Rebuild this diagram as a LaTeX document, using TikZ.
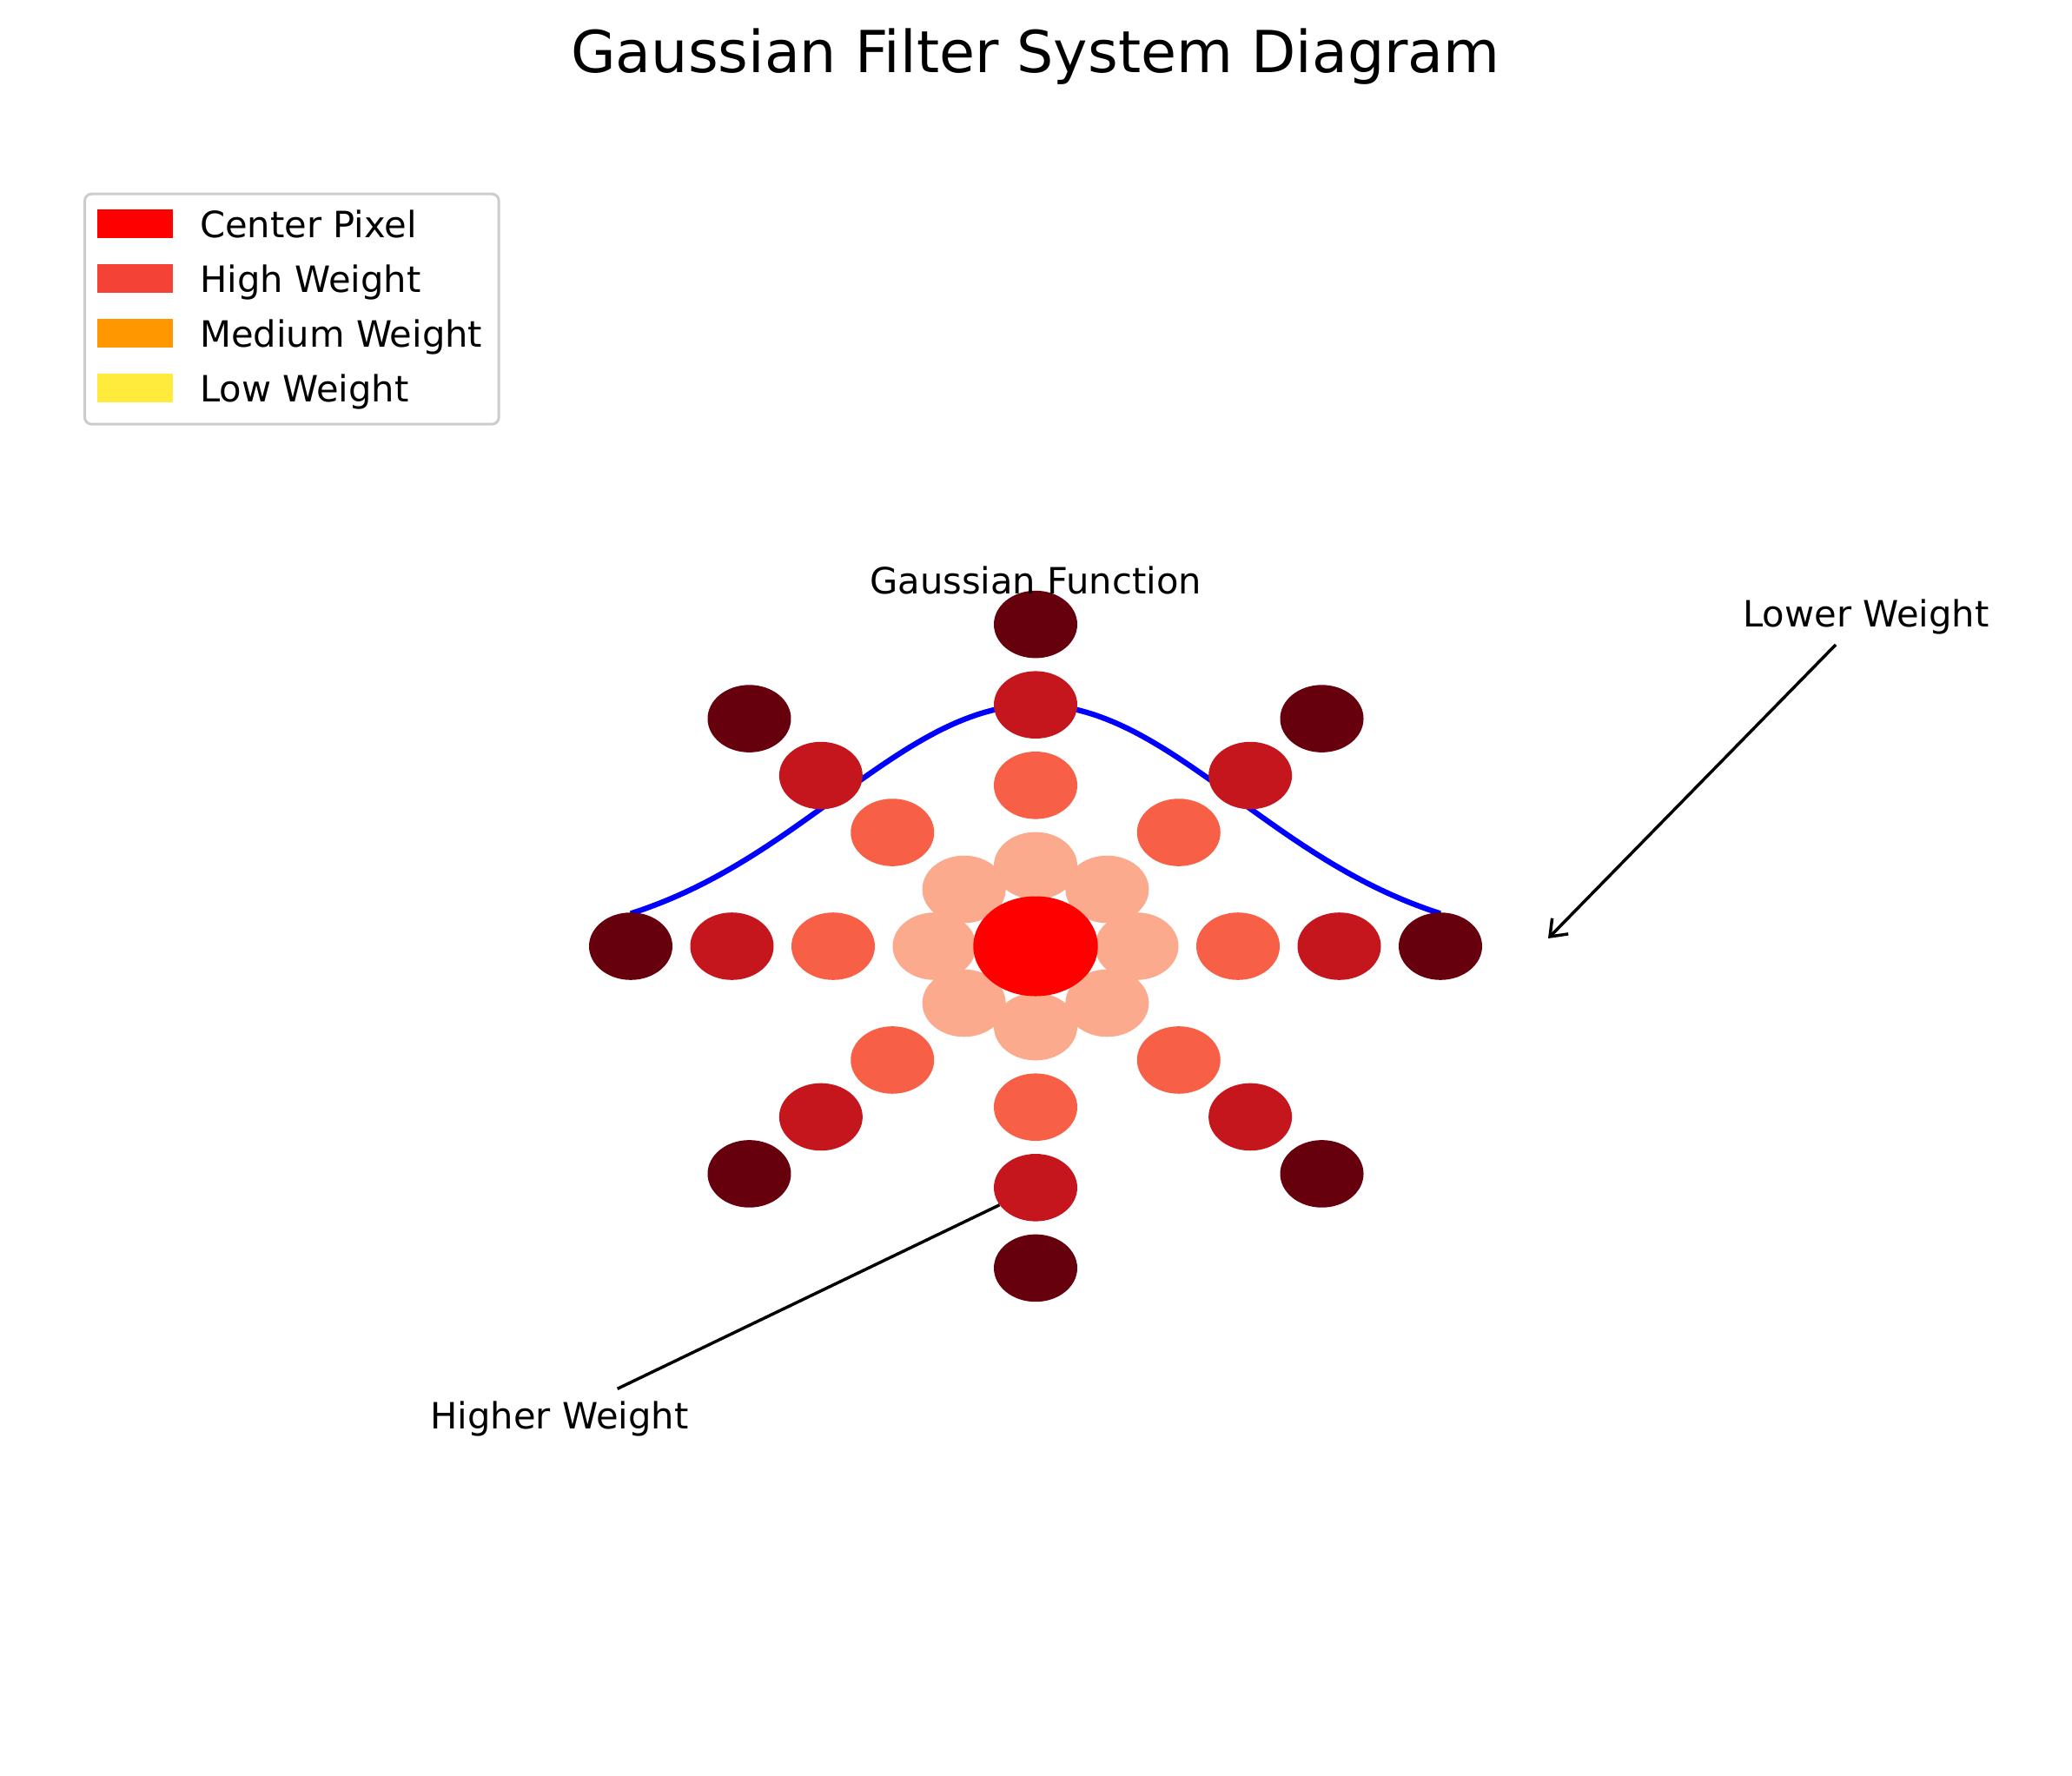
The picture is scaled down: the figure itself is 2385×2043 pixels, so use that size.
\documentclass[tikz,border=0pt]{standalone}
\usepackage{fontspec}
\setmainfont{DejaVu Sans}
\usetikzlibrary{shapes.geometric,arrows.meta}
\definecolor{ringA}{HTML}{FCAA8E}
\definecolor{ringB}{HTML}{F75F46}
\definecolor{ringC}{HTML}{C4161C}
\definecolor{ringD}{HTML}{67000D}
\definecolor{legCenter}{HTML}{FF0000}
\definecolor{legHigh}{HTML}{F44336}
\definecolor{legMed}{HTML}{FF9800}
\definecolor{legLow}{HTML}{FFEB3B}
\definecolor{legEdge}{HTML}{CCCCCC}
\definecolor{curveblue}{HTML}{0000FF}
\begin{document}
\begin{tikzpicture}[x=1pt,y=-1pt,
  pix/.style={ellipse, inner sep=0pt, minimum width=96pt, minimum height=77.6pt, draw=none},
  lbl/.style={inner sep=0pt, anchor=base, font=\fontsize{41.67}{50}\selectfont},
  legpatch/.style={rectangle, inner sep=0pt, minimum width=87pt, minimum height=32.7pt, anchor=north west, draw=none},
  legtext/.style={inner sep=0pt, anchor=base west, font=\fontsize{41.67}{50}\selectfont},
  conn/.style={line width=3.5pt, black},
  gauss/.style={line width=6.25pt, curveblue}
]
\useasboundingbox (0,0) rectangle (2385,2043);
\fill[white] (0,0) rectangle (2385,2043);

% title
\node[inner sep=0pt, anchor=base, font=\fontsize{66.67}{80}\selectfont] (title) at (1192,83) {Gaussian Filter System Diagram};

% legend
\node[draw=legEdge, line width=3pt, rounded corners=8pt, fill=white, inner sep=0pt,
      minimum width=476.7pt, minimum height=265pt, anchor=north west] (legend) at (96,221.7) {};
\node[legpatch, fill=legCenter] (lp1) at (112,241) {};
\node[legpatch, fill=legHigh]   (lp2) at (112,304) {};
\node[legpatch, fill=legMed]    (lp3) at (112,367) {};
\node[legpatch, fill=legLow]    (lp4) at (112,430) {};
\node[legtext] (lt1) at (230,273.3) {Center Pixel};
\node[legtext] (lt2) at (230,336.3) {High Weight};
\node[legtext] (lt3) at (230,399.3) {Medium Weight};
\node[legtext] (lt4) at (230,462.3) {Low Weight};

% gaussian curve
\draw[gauss] plot[domain=-4:4, samples=120, variable=\t] ({1192+116.5*\t}, {1089-277.8*exp(-\t*\t/8)});

% rings of pixels
\foreach \r/\col in {1/ringA,2/ringB,3/ringC,4/ringD}{
  \foreach \k in {0,...,7}{
    \node[pix, fill=\col] (c\r-\k) at ({1192+116.5*\r*cos(45*\k)}, {1089-92.6*\r*sin(45*\k)}) {};
  }
}
% center pixel
\node[pix, fill=legCenter, minimum width=143.4pt, minimum height=115pt] (center) at (1192,1089) {};

% labels
\node[lbl] (gf) at (1192,683.3) {Gaussian Function};
\node[lbl] (lw) at (2148,721) {Lower Weight};
\node[lbl] (hw) at (644,1644) {Higher Weight};

% annotations
\coordinate (lwfrom) at (2113,742);
\coordinate (lwto) at (1782,1080);
\draw[conn, -{Straight Barb[length=17pt, width=26pt]}] (lwfrom) -- (lwto);
\coordinate (hwfrom) at (710.7,1598.3);
\draw[conn] (hwfrom) -- (c3-6);
\end{tikzpicture}
\end{document}
